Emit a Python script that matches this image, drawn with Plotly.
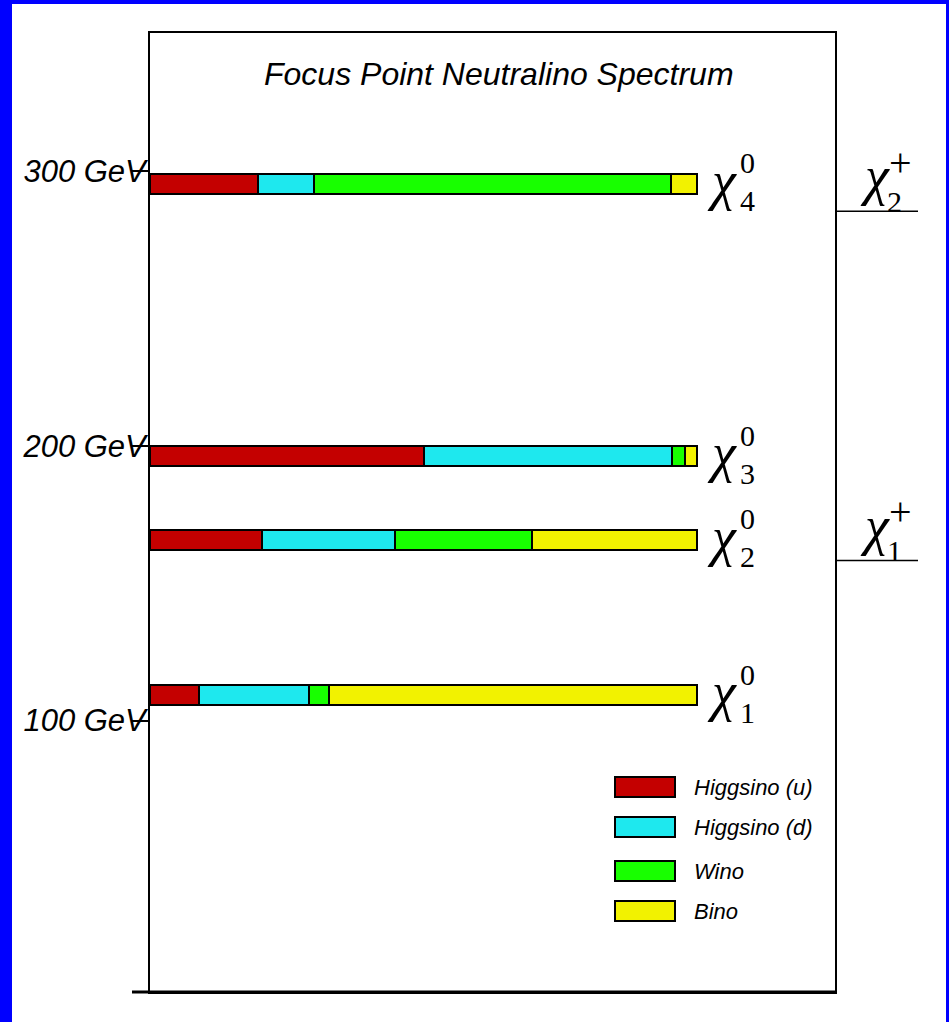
import plotly.graph_objects as go

# Neutralino masses (GeV) and gaugino/higgsino composition (%) of each state
states = ["χ̃⁰₁", "χ̃⁰₂", "χ̃⁰₃", "χ̃⁰₄"]
state_index = ["1", "2", "3", "4"]
neutralino_mass = [109.2, 165.7, 196.2, 295.2]
higgsino_u = [8.9, 20.5, 50.1, 19.7]
higgsino_d = [20.1, 24.2, 45.3, 10.3]
wino = [3.7, 25.1, 2.3, 65.2]
bino = [67.3, 30.2, 2.3, 4.8]

# Chargino masses (GeV)
chargino_index = ["1", "2"]
chargino_mass = [158.2, 285.3]

component_names = ["Higgsino (u)", "Higgsino (d)", "Wino", "Bino"]
component_values = [higgsino_u, higgsino_d, wino, bino]
component_colors = ["#C40000", "#1EE8EE", "#18FF00", "#F2F200"]

tick_vals = [100, 200, 300]
tick_text = ["100 GeV", "200 GeV", "300 GeV"]
title_text = "Focus Point Neutralino Spectrum"

# ---- layout geometry (pixels) ----
W, H = 949, 1022
L, R, T, B = 150, 835, 33, 992
PW, PH = R - L, B - T


def px(x):
    return (x - L) / PW


def py(y):
    return (B - y) / PH


SANS = "Liberation Sans, Arial, sans-serif"
SERIF = "Liberation Serif, Times New Roman, serif"

fig = go.Figure()

for name, vals, col in zip(component_names, component_values, component_colors):
    fig.add_trace(go.Bar(
        x=vals, y=neutralino_mass, orientation="h", name=name,
        width=7.3, marker=dict(color=col, line=dict(color="black", width=2)),
        customdata=states,
        hovertemplate="%{customdata}: %{x:.1f}%<extra>" + name + "</extra>",
    ))

shapes = []
annotations = []

# white page inside the blue frame
shapes.append(dict(type="rect", xref="paper", yref="paper", layer="below",
                   x0=px(12), x1=px(946), y0=py(1040), y1=py(4),
                   fillcolor="white", line=dict(width=0)))
# thick base line extending left of the box
shapes.append(dict(type="line", xref="paper", yref="paper",
                   x0=px(132), x1=px(836), y0=py(992), y1=py(992),
                   line=dict(color="black", width=3)))

CHI_FONT = dict(family=SERIF, size=54, color="black", style="italic")
SCRIPT_FONT = dict(family=SERIF, size=30, color="black")

# chargino levels outside the box
for idx, m in zip(chargino_index, chargino_mass):
    shapes.append(dict(type="line", xref="paper", yref="y",
                       x0=1.0, x1=px(918), y0=m, y1=m,
                       line=dict(color="black", width=1.5)))
    annotations.append(dict(text="χ", xref="paper", yref="y", x=px(875), y=m,
                            yshift=35, showarrow=False, xanchor="center", yanchor="middle",
                            font=CHI_FONT))
    annotations.append(dict(text="+", xref="paper", yref="y", x=px(900), y=m,
                            yshift=49, showarrow=False, xanchor="center", yanchor="middle",
                            font=dict(family=SERIF, size=40, color="black")))
    annotations.append(dict(text=idx, xref="paper", yref="y", x=px(895), y=m,
                            yshift=10, showarrow=False, xanchor="center", yanchor="middle",
                            font=SCRIPT_FONT))

# neutralino labels at the end of each bar
for idx, m in zip(state_index, neutralino_mass):
    annotations.append(dict(text="χ", xref="paper", yref="y", x=px(722), y=m,
                            yshift=3, showarrow=False, xanchor="center", yanchor="middle",
                            font=CHI_FONT))
    annotations.append(dict(text="0", xref="paper", yref="y", x=px(747), y=m,
                            yshift=21, showarrow=False, xanchor="center", yanchor="middle",
                            font=SCRIPT_FONT))
    annotations.append(dict(text=idx, xref="paper", yref="y", x=px(747), y=m,
                            yshift=-17, showarrow=False, xanchor="center", yanchor="middle",
                            font=SCRIPT_FONT))

# title inside the box
annotations.append(dict(text=title_text, xref="paper", yref="paper", x=px(499), y=py(74),
                        showarrow=False, xanchor="center", yanchor="middle",
                        font=dict(family=SANS, size=32, color="black", style="italic")))

# composition key
key_centers = [787, 827, 871, 911]
for name, col, yc in zip(component_names, component_colors, key_centers):
    shapes.append(dict(type="rect", xref="paper", yref="paper",
                       x0=px(615), x1=px(675), y0=py(yc + 10), y1=py(yc - 10),
                       fillcolor=col, line=dict(color="black", width=2)))
    annotations.append(dict(text=name, xref="paper", yref="paper", x=px(692), y=py(yc),
                            showarrow=False, xanchor="left", yanchor="middle",
                            font=dict(family=SANS, size=22, color="black", style="italic")))

fig.update_layout(
    width=W, height=H,
    margin=dict(l=L, r=W - R, t=T, b=H - B, pad=0),
    paper_bgcolor="#0000FF", plot_bgcolor="white",
    barmode="stack", bargap=0, showlegend=False,
    shapes=shapes, annotations=annotations,
    xaxis=dict(range=[0, 125.2], showgrid=False, zeroline=False, showticklabels=False,
               ticks="", showline=True, mirror=True, linecolor="black", linewidth=2,
               fixedrange=True),
    yaxis=dict(range=[1.3, 350.1], showgrid=False, zeroline=False,
               tickvals=tick_vals, ticktext=tick_text, ticks="outside", ticklen=16,
               tickwidth=1.5, tickcolor="black", ticklabelstandoff=-20,
               tickfont=dict(family=SANS, size=31, color="black", style="italic"),
               showline=True, mirror=True, linecolor="black", linewidth=2,
               fixedrange=True),
)

fig.write_html("out.html")
